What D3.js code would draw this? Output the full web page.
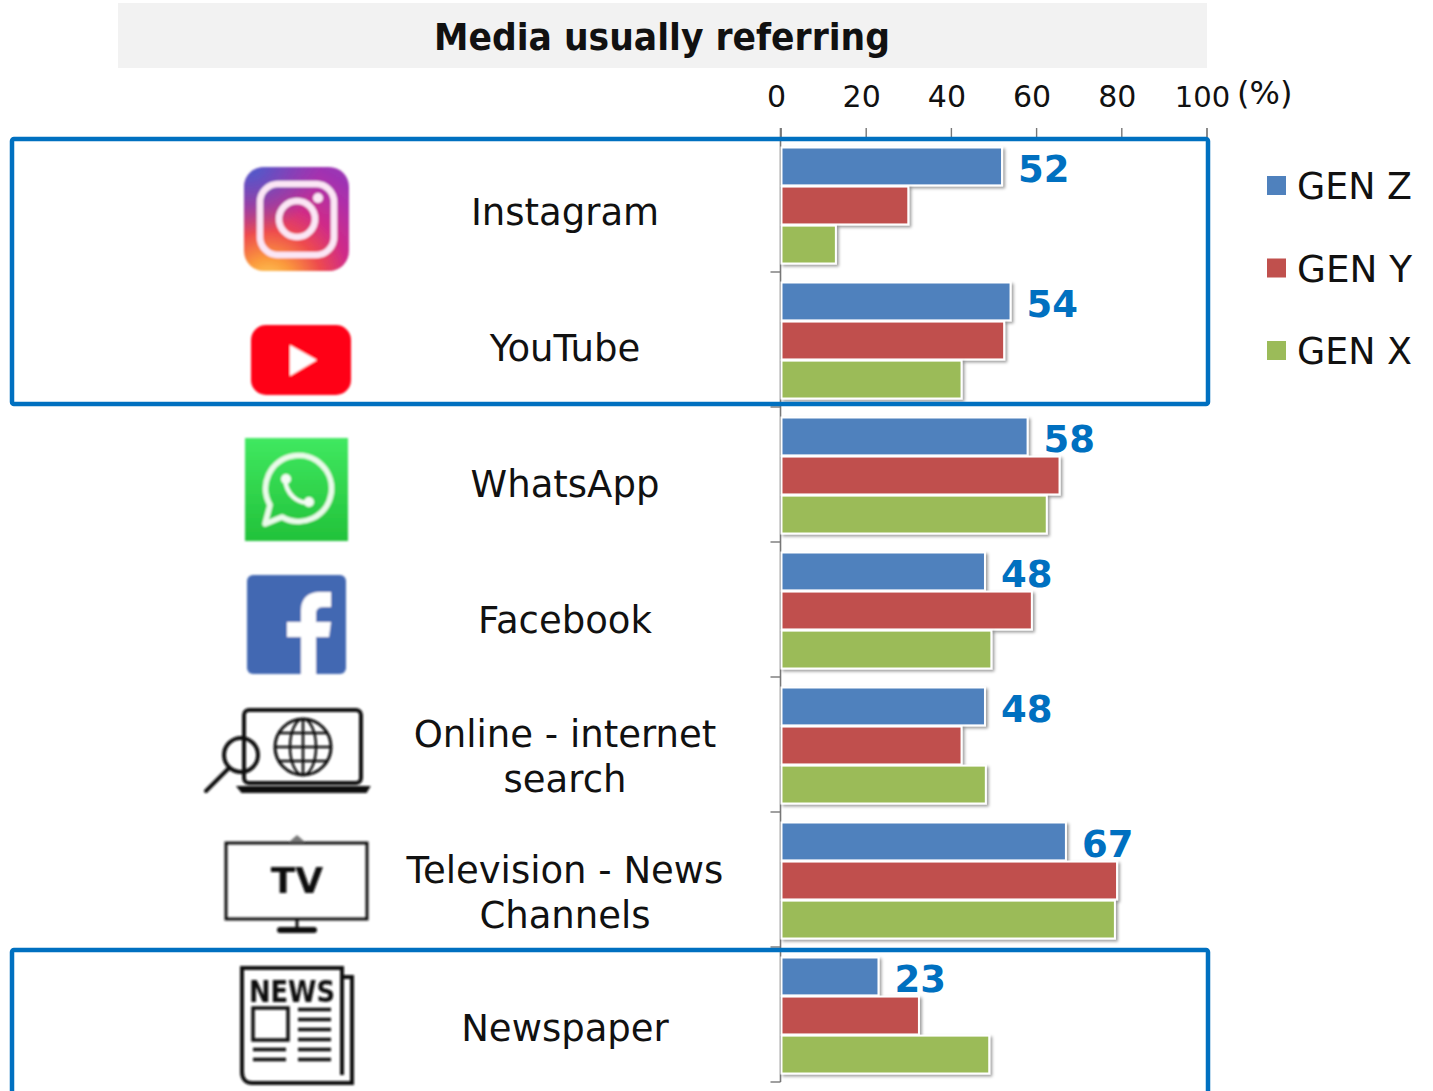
<!DOCTYPE html>
<html>
<head>
<meta charset="utf-8">
<script src="https://cdn.jsdelivr.net/npm/d3@7"></script>
<style>
html,body{margin:0;padding:0;background:#fff;overflow:hidden}
svg{display:block}
text{font-family:"DejaVu Sans",sans-serif;fill:#111}
</style>
</head>
<body>
<svg id="chart" width="1433" height="1091"></svg>
<script>
// Media usage by generation, one group of three bars per channel
const categories = ["Instagram","YouTube","WhatsApp","Facebook","Online - internet|search","Television - News|Channels","Newspaper"];
const iconKeys   = ["instagram","youtube","whatsapp","facebook","search","tv","news"];
const genZ = [52,54,58,48,48,67,23];
const genY = [30,52.5,65.5,59,42.5,79,32.5];
const genX = [13,42.5,62.5,49.5,48.2,78.5,49];
const generations = ["GEN Z","GEN Y","GEN X"];
const genColors = ["#4F81BD","#C0504D","#9BBB59"];
const xTicks = [0,20,40,60,80,100];
const seriesValues = [genZ,genY,genX];
const ACCENT = "#0070C0";
// Baselines of the channel names inside each group
const labelBaselines = [[88],[89],[90],[91],[70,115],[71,116],[94]];

const svg = d3.select("#chart");
const defs = svg.append("defs");

const barShadow = defs.append("filter").attr("id","barShadow")
  .attr("x","-5%").attr("y","-10%").attr("width","115%").attr("height","130%");
barShadow.append("feDropShadow").attr("dx",2).attr("dy",2).attr("stdDeviation",1.4)
  .attr("flood-color","#000").attr("flood-opacity",0.38);
defs.append("filter").attr("id","soft").append("feGaussianBlur").attr("stdDeviation",0.95);

const igGrad = defs.append("radialGradient").attr("id","igGrad")
  .attr("gradientUnits","userSpaceOnUse").attr("cx",268).attr("cy",285).attr("r",130);
[[0,"#FFD860"],[0.2,"#FB9A3C"],[0.42,"#EE4A4E"],[0.62,"#D12C86"],[0.85,"#B02EA8"],[1,"#9C34B4"]]
  .forEach(([o,c])=>igGrad.append("stop").attr("offset",o).attr("stop-color",c));
const igBlue = defs.append("radialGradient").attr("id","igBlue")
  .attr("gradientUnits","userSpaceOnUse").attr("cx",250).attr("cy",165).attr("r",70);
igBlue.append("stop").attr("offset",0).attr("stop-color","#4A5CCC").attr("stop-opacity",1);
igBlue.append("stop").attr("offset",1).attr("stop-color","#4A5CCC").attr("stop-opacity",0);
const waGrad = defs.append("linearGradient").attr("id","waGrad").attr("x1",0).attr("x2",0).attr("y1",0).attr("y2",1);
waGrad.append("stop").attr("offset",0).attr("stop-color","#40E860");
waGrad.append("stop").attr("offset",1).attr("stop-color","#22C23A");

const x = d3.scaleLinear().domain([0,100]).range([780.5,1206.5]);
const y = d3.scaleBand().domain(categories).range([137,1082]);
const inner = d3.scaleBand().domain(generations).range([10.5,126.5]).paddingInner(0.03);

// Title strip
svg.append("rect").attr("x",118).attr("y",3).attr("width",1089).attr("height",65).attr("fill","#F2F2F2");
svg.append("text").attr("x",662).attr("y",50).attr("text-anchor","middle")
  .attr("font-size",38).attr("font-weight","bold").attr("textLength",456).attr("lengthAdjust","spacingAndGlyphs")
  .text("Media usually referring");

// Top axis; numbers sit a little left of their ticks
const xAxis = d3.axisTop(x).tickValues(xTicks).tickSize(9);
const axisG = svg.append("g").attr("transform","translate(0,137)").call(xAxis);
axisG.select(".domain").attr("stroke","#777");
axisG.selectAll(".tick line").attr("stroke","#777").attr("stroke-width",1.4);
axisG.selectAll(".tick text").attr("font-size",30).attr("font-family",'"DejaVu Sans",sans-serif').attr("fill","#111")
  .attr("dy",0).attr("y",-30).attr("dx",-4.5);
axisG.selectAll(".tick text").filter(d=>d===100).attr("dx",-4.5).attr("font-size",29);
svg.append("text").attr("x",1237).attr("y",104).attr("font-size",32).text("(%)");

// Category axis with ticks between groups
const edges = d3.range(categories.length+1).map(i=>137+i*y.step());
svg.append("line").attr("x1",x(0)).attr("x2",x(0)).attr("y1",128).attr("y2",1082).attr("stroke","#777").attr("stroke-width",1.6);
svg.selectAll(".catTick").data(edges.slice(1)).join("line").attr("class","catTick")
  .attr("x1",x(0)-10).attr("x2",x(0)).attr("y1",d=>d).attr("y2",d=>d).attr("stroke","#777").attr("stroke-width",1.4);

// Bars
const group = svg.selectAll(".group").data(categories).join("g").attr("class","group")
  .attr("transform",d=>`translate(0,${y(d)})`);
group.each(function(cat,ci){
  const g = d3.select(this);
  generations.forEach((gen,si)=>{
    g.append("rect").attr("x",x(0)+1).attr("y",inner(gen))
      .attr("width",x(seriesValues[si][ci])-x(0)-1).attr("height",inner.bandwidth())
      .attr("fill",genColors[si]).attr("stroke","#fff").attr("stroke-width",2)
      .attr("filter","url(#barShadow)");
  });
  g.append("text").attr("x",x(genZ[ci])+16).attr("y",inner("GEN Z")+inner.bandwidth()/2+16)
    .attr("font-size",37).attr("font-weight","bold").style("fill",ACCENT).text(genZ[ci]);
  cat.split("|").forEach((t,li)=>{
    g.append("text").attr("x",565).attr("y",labelBaselines[ci][li]).attr("text-anchor","middle")
      .attr("font-size",37).text(t);
  });
});

// Channel icons
const icons = svg.append("g").attr("filter","url(#soft)");
const ink = (sel)=>sel.attr("fill","none").attr("stroke","#111");
const draw = {
  instagram(g){
    g.append("rect").attr("x",244).attr("y",167).attr("width",105).attr("height",104).attr("rx",20).attr("fill","url(#igGrad)");
    g.append("rect").attr("x",244).attr("y",167).attr("width",105).attr("height",104).attr("rx",20).attr("fill","url(#igBlue)");
    g.append("rect").attr("x",260).attr("y",184).attr("width",74).attr("height",71).attr("rx",18).attr("fill","none").attr("stroke","#FBE6F5").attr("stroke-width",6.5);
    g.append("circle").attr("cx",297).attr("cy",219).attr("r",18).attr("fill","none").attr("stroke","#FBE6F5").attr("stroke-width",6.5);
    g.append("circle").attr("cx",318).attr("cy",198).attr("r",5).attr("fill","#FBE6F5");
  },
  youtube(g){
    g.append("rect").attr("x",251).attr("y",325).attr("width",100).attr("height",70).attr("rx",15).attr("fill","#FF0018");
    g.append("path").attr("d","M290 345L317 360L290 376Z").attr("fill","#fff");
  },
  whatsapp(g){
    g.append("rect").attr("x",245).attr("y",438).attr("width",103).attr("height",103).attr("fill","url(#waGrad)");
    g.append("path").attr("d","M265 524L270 505A33 33 0 1 1 282 517Z").attr("fill","none").attr("stroke","#EAFBEA").attr("stroke-width",5.5).attr("stroke-linejoin","round");
    g.append("path").attr("d","M285 479C286 494 298 505 311 502").attr("fill","none").attr("stroke","#F4FDF4").attr("stroke-width",4);
    g.append("circle").attr("cx",286).attr("cy",479).attr("r",5).attr("fill","#F4FDF4");
    g.append("circle").attr("cx",309).attr("cy",502).attr("r",5).attr("fill","#F4FDF4");
  },
  facebook(g){
    g.append("rect").attr("x",247).attr("y",575).attr("width",99).attr("height",99).attr("rx",6).attr("fill","#4267B2");
    g.append("path").attr("d","M301 674V637H287V622H301V610C301 598 309 592 319 592H331V607H323C318 607 316 610 316 614V622H331L329 637H316V674Z").attr("fill","#fff");
  },
  search(g){
    ink(g.append("rect")).attr("x",244).attr("y",710).attr("width",117).attr("height",73).attr("rx",5).attr("stroke-width",4);
    g.append("path").attr("d","M238 787H369L366 792H242Z").attr("fill","#111").attr("stroke","#111").attr("stroke-width",2);
    ink(g.append("circle")).attr("cx",303).attr("cy",747).attr("r",28).attr("stroke-width",3);
    ink(g.append("ellipse")).attr("cx",303).attr("cy",747).attr("rx",13).attr("ry",28).attr("stroke-width",2.5);
    ink(g.append("path")).attr("d","M303 719V775M275 747H331M279 733H327M279 761H327").attr("stroke-width",2.5);
    ink(g.append("circle")).attr("cx",241).attr("cy",755).attr("r",17).attr("stroke-width",4);
    ink(g.append("path")).attr("d","M229 768L206 791").attr("stroke-width",4).attr("stroke-linecap","round");
  },
  tv(g){
    ink(g.append("rect")).attr("x",226).attr("y",843).attr("width",141).attr("height",76).attr("stroke-width",3);
    g.append("path").attr("d","M289 842L297 835L305 842Z").attr("fill","#777");
    g.append("text").attr("x",297).attr("y",893).attr("text-anchor","middle").attr("font-size",36).attr("font-weight","bold").text("TV");
    ink(g.append("path")).attr("d","M297 920V930").attr("stroke-width",3);
    g.append("rect").attr("x",277).attr("y",927).attr("width",40).attr("height",6).attr("rx",3).attr("fill","#111");
  },
  news(g){
    ink(g.append("path")).attr("d","M342 977H352V1083H252C245 1083 242 1078 242 1072V968H342V1075").attr("stroke-width",4);
    g.append("text").attr("x",292).attr("y",1002).attr("text-anchor","middle").attr("font-size",30).attr("font-weight","bold")
      .attr("textLength",86).attr("lengthAdjust","spacingAndGlyphs").text("NEWS");
    ink(g.append("rect")).attr("x",253).attr("y",1008).attr("width",35).attr("height",32).attr("stroke-width",3.5);
    const rules = [1009,1019,1029,1039,1049,1059];
    ink(g.selectAll(".r").data(rules).join("line")).attr("x1",298).attr("x2",331).attr("y1",d=>d+.5).attr("y2",d=>d+.5).attr("stroke-width",3.5);
    ink(g.selectAll(".s").data([1049,1059]).join("line")).attr("x1",253).attr("x2",286).attr("y1",d=>d+.5).attr("y2",d=>d+.5).attr("stroke-width",3.5);
  }
};
iconKeys.forEach(k=>draw[k](icons.append("g")));

// Highlight frames
const frames = [[12,139,1196,265],[12,950,1196,150]];
svg.selectAll(".frame").data(frames).join("rect").attr("class","frame")
  .attr("x",d=>d[0]).attr("y",d=>d[1]).attr("width",d=>d[2]).attr("height",d=>d[3]).attr("rx",2)
  .attr("fill","none").attr("stroke",ACCENT).attr("stroke-width",4.5);

// Legend
const legend = svg.selectAll(".legend").data(generations).join("g").attr("class","legend")
  .attr("transform",(d,i)=>`translate(1267,${186+i*82.5})`);
legend.append("rect").attr("y",-10).attr("width",19).attr("height",19).attr("fill",(d,i)=>genColors[i]);
legend.append("text").attr("x",30).attr("y",13).attr("font-size",37).attr("textLength",115).attr("lengthAdjust","spacingAndGlyphs").text(d=>d);
</script>
</body>
</html>
